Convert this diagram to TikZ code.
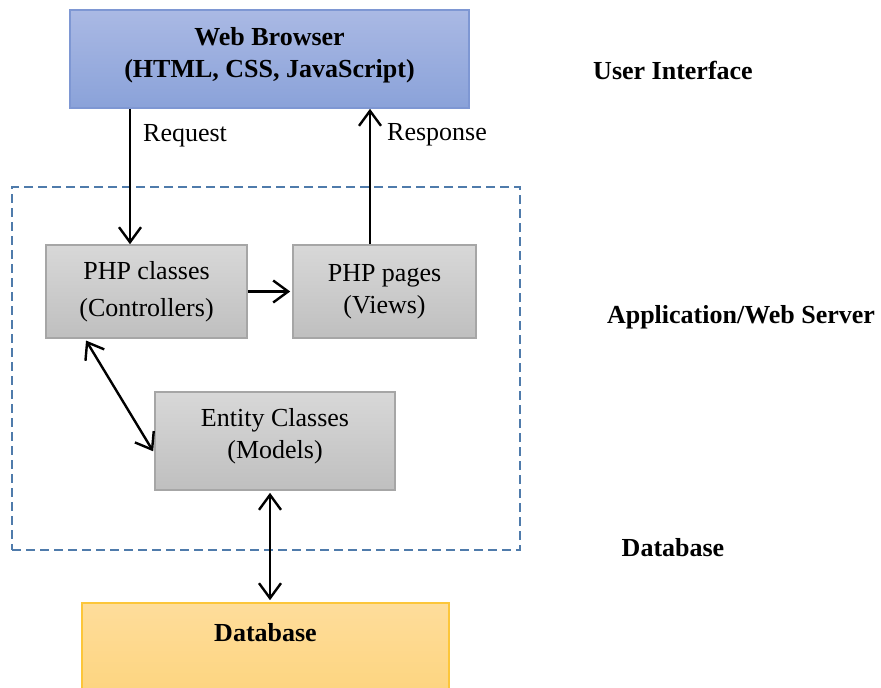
\documentclass[tikz,border=0pt]{standalone}
\usepackage{fontspec}
\setmainfont{Liberation Serif}
\usetikzlibrary{arrows.meta}

\definecolor{bluetop}{HTML}{AAB9E4}
\definecolor{bluebot}{HTML}{8AA2D9}
\definecolor{blueline}{HTML}{7E97D3}
\definecolor{graytop}{HTML}{D8D8D8}
\definecolor{graybot}{HTML}{BFBFBF}
\definecolor{grayline}{HTML}{A6A6A6}
\definecolor{goldtop}{HTML}{FEDD9B}
\definecolor{goldbot}{HTML}{FDD277}
\definecolor{goldline}{HTML}{FCC63A}
\definecolor{frameline}{HTML}{4F7BAB}

\begin{document}
\fontsize{13}{16}\selectfont
\begin{tikzpicture}[x=0.5pt, y=-0.5pt, line width=1.2pt,
                    >={Straight Barb[length=7.5pt,width=11pt]},
                    box/.style={align=center, line width=0.8pt, inner sep=0pt},
                    ui box/.style={box, draw=blueline, top color=bluetop, bottom color=bluebot, font=\bfseries},
                    php box/.style={box, draw=grayline, top color=graytop, bottom color=graybot},
                    db box/.style={box, draw=goldline, top color=goldtop, bottom color=goldbot},
                    tier/.style={font=\bfseries},
                    frame/.style={draw=frameline, dashed, dash pattern=on 4.5pt off 2.5pt, line width=1.2pt}]

\useasboundingbox (0,0) rectangle (881,687);

\node[frame, minimum width=254pt, minimum height=181.5pt] (server) at (266,368.5) {};

\node[ui box, minimum width=199.5pt, minimum height=49pt, text depth=7pt] (browser) at (269.5,59) {Web Browser\\(HTML, CSS, JavaScript)};
  \node[php box, minimum width=100.5pt, minimum height=46.5pt] (ctrl) at (146.5,291.5) {PHP classes\\[2.5pt](Controllers)};
    \node[php box, minimum width=91.5pt, minimum height=46.5pt] (views) at (384.5,291.5) {PHP pages\\(Views)};
      \node[php box, minimum width=120pt, minimum height=49pt, text depth=8pt] (entity) at (275,441) {Entity Classes\\(Models)};
        \node[db box, minimum width=183.5pt, minimum height=58.5pt] (db) at (265.5,661.5) {};
          \node[font=\bfseries, anchor=north] (dblabel) at ([yshift=-5.5pt]db.north) {Database};

\node[tier] (ui) at (673,70) {User Interface};
\node[tier] (app) at (741,317) {Application/Web Server};
\node[tier] (data) at (673,548) {Database};

\draw[->] ([xshift=-8.25pt]ctrl.north |- browser.south) -- node[pos=0.2, right=6pt, inner sep=0pt] {Request} ([xshift=-8.25pt]ctrl.north);
\draw[->] ([xshift=-7.25pt]views.north) -- node[pos=0.81, right=8pt, inner sep=0pt] {Response} ([xshift=-7.25pt]views.north |- browser.south);
\draw[->, shorten >=1pt] (ctrl.east) -- (views.west);
\draw[<->, shorten <=1pt, shorten >=1pt] ([xshift=-30.75pt]ctrl.south) -- ([yshift=-6pt]entity.west);
\draw[<->, shorten <=1pt, shorten >=1pt] ([xshift=-2.5pt]entity.south) -- ([xshift=-2.5pt]entity.south |- db.north);

\end{tikzpicture}
\end{document}
